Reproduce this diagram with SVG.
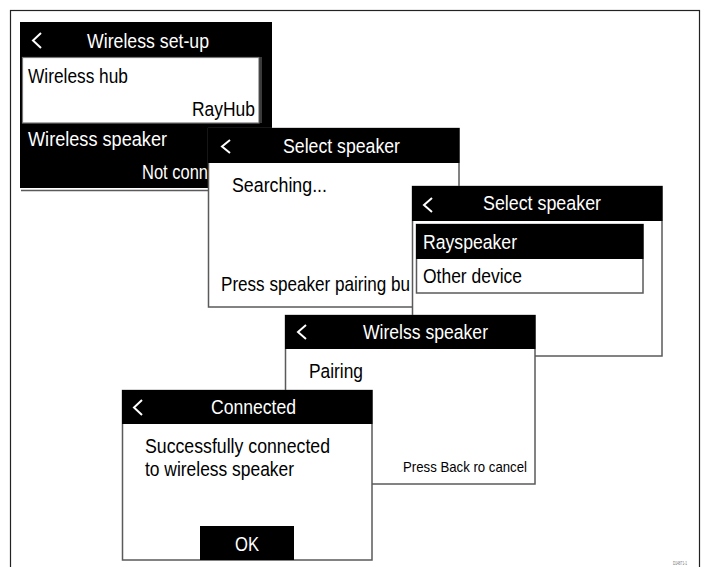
<svg xmlns="http://www.w3.org/2000/svg" width="706" height="567" viewBox="0 0 706 567">
<style>
text{font-family:"Liberation Sans",Arial,sans-serif;font-size:20.5px}
.w{fill:#fff}
.k{fill:#000}
.panel{fill:#fff;stroke:#5a5a5a;stroke-width:1.5}
.hdr{fill:#000}
.chev{fill:none;stroke:#fff;stroke-width:2}
.mid{text-anchor:middle}
.end{text-anchor:end}
</style>
<rect x="10.5" y="10.5" width="689" height="570" fill="#fff" stroke="#222" stroke-width="1.2"/>

<g id="panel-wireless-setup">
  <rect x="20" y="22" width="252" height="166" fill="#000"/>
  <line x1="21" y1="190.5" x2="272" y2="190.5" stroke="#5a5a5a" stroke-width="1.5"/>
  <rect x="22.5" y="57.5" width="236.5" height="65.5" fill="#fff" stroke="#777" stroke-width="1.2"/>
  <line x1="261" y1="57" x2="261" y2="123" stroke="#777" stroke-width="1"/>
  <polyline class="chev" points="41,33 33,40.5 41,48"/>
  <text class="w mid" x="148" y="48" textLength="122" lengthAdjust="spacingAndGlyphs">Wireless set-up</text>
  <text class="k" x="28" y="83" textLength="100" lengthAdjust="spacingAndGlyphs">Wireless hub</text>
  <text class="k" x="192" y="116" textLength="63" lengthAdjust="spacingAndGlyphs">RayHub</text>
  <text class="w" x="28" y="146" textLength="139" lengthAdjust="spacingAndGlyphs">Wireless speaker</text>
  <text class="w" x="142" y="179" textLength="66" lengthAdjust="spacingAndGlyphs">Not conn</text>
</g>

<g id="panel-searching">
  <rect class="panel" x="208.5" y="128.5" width="250.5" height="178.5"/>
  <rect class="hdr" x="208" y="128" width="251.5" height="35"/>
  <polyline class="chev" points="230,140 222,146.5 230,153"/>
  <text class="w mid" x="341.5" y="153" textLength="117" lengthAdjust="spacingAndGlyphs">Select speaker</text>
  <text class="k" x="232" y="192" textLength="95" lengthAdjust="spacingAndGlyphs">Searching...</text>
  <text class="k" transform="translate(221,291) scale(0.834,1)">Press speaker pairing bu</text>
</g>

<g id="panel-select">
  <rect class="panel" x="412.5" y="186.5" width="249.5" height="169.5"/>
  <rect class="hdr" x="412" y="186" width="250.5" height="35"/>
  <polyline class="chev" points="432,198 424,205 432,212"/>
  <text class="w mid" x="542" y="210" textLength="118" lengthAdjust="spacingAndGlyphs">Select speaker</text>
  <rect x="416.5" y="224.5" width="226.5" height="68.5" fill="#fff" stroke="#5a5a5a" stroke-width="1.5"/>
  <rect x="416" y="224" width="227.5" height="35" fill="#000"/>
  <text class="w" x="423" y="249" textLength="94" lengthAdjust="spacingAndGlyphs">Rayspeaker</text>
  <text class="k" x="423" y="283" textLength="99" lengthAdjust="spacingAndGlyphs">Other device</text>
</g>

<g id="panel-pairing">
  <rect class="panel" x="285.5" y="315.5" width="249.5" height="168.5"/>
  <rect class="hdr" x="285" y="315" width="250.5" height="34"/>
  <polyline class="chev" points="306,325 298,332 306,339"/>
  <text class="w mid" x="425.5" y="339" textLength="125" lengthAdjust="spacingAndGlyphs">Wirelss speaker</text>
  <text class="k" x="309" y="378" textLength="54" lengthAdjust="spacingAndGlyphs">Pairing</text>
  <text class="k end" x="527" y="472" style="font-size:15px" textLength="124" lengthAdjust="spacingAndGlyphs">Press Back ro cancel</text>
</g>

<g id="panel-connected">
  <rect class="panel" x="122.5" y="390.5" width="249.5" height="169.5"/>
  <rect class="hdr" x="122" y="390" width="250.5" height="34"/>
  <polyline class="chev" points="142,400 134,407.5 142,415"/>
  <text class="w mid" x="253.5" y="414" textLength="85" lengthAdjust="spacingAndGlyphs">Connected</text>
  <text class="k" x="145" y="453" textLength="185" lengthAdjust="spacingAndGlyphs">Successfully connected</text>
  <text class="k" x="145" y="476" textLength="149" lengthAdjust="spacingAndGlyphs">to wireless speaker</text>
  <rect x="200" y="526" width="94" height="34" fill="#000"/>
  <text class="w mid" x="247" y="551" textLength="24" lengthAdjust="spacingAndGlyphs">OK</text>
</g>

<g id="connectors"></g>

<text x="673" y="565" style="font-size:5px;fill:#777" textLength="14" lengthAdjust="spacingAndGlyphs">D14871-1</text>
</svg>
